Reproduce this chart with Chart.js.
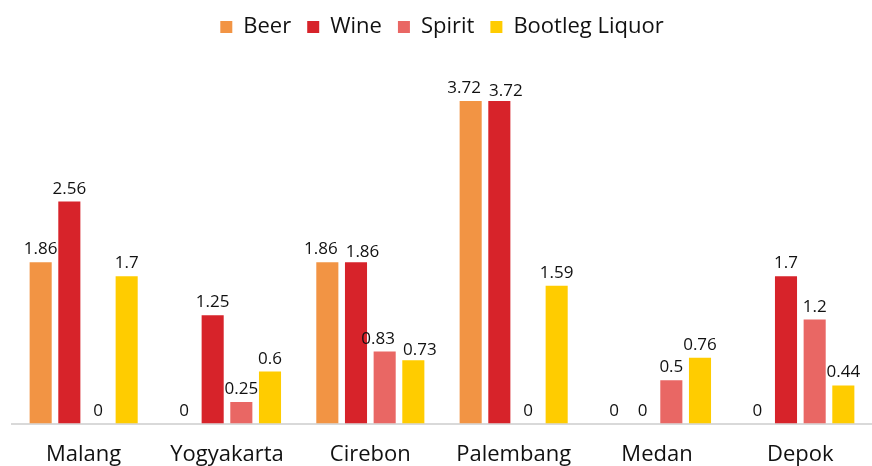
<!DOCTYPE html>
<html lang="en">
<head>
  <meta charset="UTF-8" />
  <title>Alcohol by city</title>
  <script src="https://cdn.jsdelivr.net/npm/chart.js"></script>
  <style>
    body {
      margin: 0;
      padding: 0;
      background-color: #fff;
    }
    .chart-container {
      width: 872px;
      height: 466px;
      position: relative;
    }
  </style>
</head>
<body>
  <div class="chart-container">
    <canvas id="cityChart"></canvas>
  </div>

  <script>
    const cities = ['Malang', 'Yogyakarta', 'Cirebon', 'Palembang', 'Medan', 'Depok'];
    const beer = [1.86, 0, 1.86, 3.72, 0, 0];
    const wine = [2.56, 1.25, 1.86, 3.72, 0, 1.7];
    const spirit = [0, 0.25, 0.83, 0, 0.5, 1.2];
    const bootleg = [1.7, 0.6, 0.73, 1.59, 0.76, 0.44];

    const fontName = '"Open Sans", "Noto Sans", sans-serif';

    // draw the value above every bar, zeros included.
    // neighbours at the same height get pushed apart so they don't collide
    const valueLabels = {
      id: 'valueLabels',
      afterDatasetsDraw(chart) {
        const ctx = chart.ctx;
        ctx.save();
        ctx.font = '17px ' + fontName;
        ctx.fillStyle = '#111';
        ctx.textAlign = 'center';
        ctx.textBaseline = 'alphabetic';
        const n = chart.data.labels.length;
        const sets = chart.data.datasets;
        for (let j = 0; j < n; j++) {
          const items = sets.map((ds, i) => {
            const bar = chart.getDatasetMeta(i).data[j];
            const text = String(ds.data[j]);
            return { text, x: bar.x, y: bar.y - 8, w: ctx.measureText(text).width };
          });
          for (let i = 0; i < items.length - 1; i++) {
            const a = items[i], b = items[i + 1];
            if (Math.abs(a.y - b.y) < 16) {
              const overlap = (a.w + b.w) / 2 + 8 - (b.x - a.x);
              if (overlap > 0) {
                a.x -= overlap / 2;
                b.x += overlap / 2;
                b.y += 3;
              }
            }
          }
          items.forEach(it => ctx.fillText(it.text, it.x, it.y));
        }
        ctx.restore();
      }
    };

    const ctx = document.getElementById('cityChart').getContext('2d');

    const chart = new Chart(ctx, {
      type: 'bar',
      data: {
        labels: cities,
        datasets: [
          { label: 'Beer', data: beer, backgroundColor: '#F29444' },
          { label: 'Wine', data: wine, backgroundColor: '#D7232A' },
          { label: 'Spirit', data: spirit, backgroundColor: '#E96764' },
          { label: 'Bootleg Liquor', data: bootleg, backgroundColor: '#FFCC00' }
        ]
      },
      options: {
        responsive: true,
        maintainAspectRatio: false,
        animation: false,
        layout: {
          padding: { left: 12, right: 0, top: 0, bottom: -20 }
        },
        datasets: {
          bar: {
            categoryPercentage: 0.8,
            barPercentage: 0.77
          }
        },
        plugins: {
          legend: {
            display: true,
            position: 'top',
            labels: {
              boxWidth: 12,
              boxHeight: 12,
              padding: 16,
              color: '#111',
              font: { family: fontName, size: 22 }
            }
          },
          tooltip: { enabled: false }
        },
        scales: {
          x: {
            grid: { display: false, drawTicks: false },
            border: { color: '#d9d9d9', width: 2 },
            ticks: {
              color: '#111',
              padding: 18,
              font: { family: fontName, size: 22 }
            }
          },
          y: {
            display: false,
            min: 0,
            max: 4.33
          }
        }
      },
      plugins: [valueLabels]
    });
  </script>
</body>
</html>
